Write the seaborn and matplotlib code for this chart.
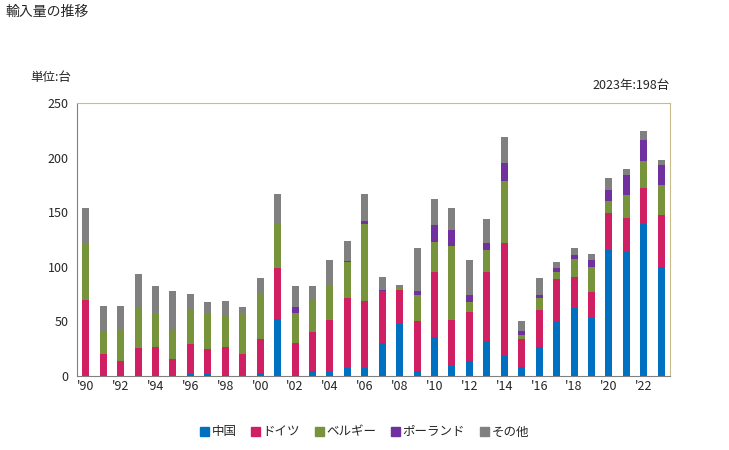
import numpy as np
import pandas as pd
import matplotlib.pyplot as plt
import seaborn as sns
from matplotlib.patches import Patch

# Values (units: 台)
years = list(range(1990, 2024))
china = [0, 0, 0, 0, 0, 0, 2, 2, 1, 0, 3, 52, 1, 5, 4, 7, 7, 30, 48, 5,
         36, 9, 14, 32, 18, 8, 27, 49, 62, 53, 115, 114, 139, 100]
germany = [70, 20, 14, 26, 27, 16, 27, 23, 26, 20, 31, 47, 29, 35, 47, 64, 62, 48, 31, 45,
           59, 42, 45, 63, 104, 26, 33, 40, 29, 24, 34, 31, 33, 47]
belgium = [52, 20, 28, 36, 31, 26, 31, 32, 29, 38, 41, 41, 28, 30, 32, 33, 70, 0, 2, 24,
           28, 68, 9, 20, 57, 4, 11, 6, 16, 23, 11, 21, 25, 28]
poland = [0, 0, 0, 0, 0, 0, 0, 0, 0, 0, 0, 0, 5, 0, 0, 1, 3, 1, 0, 4,
          15, 15, 6, 7, 16, 3, 3, 4, 4, 6, 10, 18, 19, 18]
other = [32, 24, 22, 31, 24, 36, 15, 11, 13, 5, 15, 27, 19, 12, 23, 19, 25, 12, 2, 39,
         24, 20, 32, 22, 24, 9, 16, 5, 6, 6, 11, 6, 8, 5]

series = ['中国', 'ドイツ', 'ベルギー', 'ポーランド', 'その他']
colors = ['#0070C0', '#D01F63', '#77933C', '#7030A0', '#808080']
tick_labels = ["'" + str(y)[2:] for y in years[::2]]

df = pd.DataFrame({'year': [str(y) for y in years], '中国': china, 'ドイツ': germany,
                   'ベルギー': belgium, 'ポーランド': poland, 'その他': other})

sns.set_style('white')
plt.rcParams['font.family'] = ['Noto Sans CJK JP', 'DejaVu Sans']

fig = plt.figure(figsize=(7.29, 4.50), dpi=100)
ax = fig.add_axes([77 / 729, 1 - 376 / 450, 593 / 729, 273 / 450])

# Stack the series one on top of the other
bottom = np.zeros(len(years))
for name, col in zip(series, colors):
    sns.barplot(data=df, x='year', y=name, color=col, width=0.4, bottom=bottom,
                errorbar=None, saturation=1, ax=ax, linewidth=0)
    bottom += df[name].values

ax.set_xlim(-0.5, len(years) - 0.5)
ax.set_ylim(0, 250)
ax.set_yticks(range(0, 251, 50))
ax.set_xticks(range(0, len(years), 2))
ax.set_xticklabels(tick_labels)
ax.set_xlabel('')
ax.set_ylabel('')
ax.tick_params(axis='y', length=4, color='#808080', labelsize=9, pad=2)
ax.tick_params(axis='x', length=0, labelsize=9, pad=3)

for s in ['left', 'bottom']:
    ax.spines[s].set_color('#808080')
for s in ['top', 'right']:
    ax.spines[s].set_color('#C8BC8C')

fig.text(5 / 729, 1 - 12 / 450, '輸入量の推移', fontsize=10, va='center', ha='left')
fig.text(30 / 729, 1 - 77 / 450, '単位:台', fontsize=9, va='center', ha='left')
fig.text(670 / 729, 1 - 85 / 450, '2023年:198台', fontsize=9, va='center', ha='right')

handles = [Patch(color=c, label=n) for n, c in zip(series, colors)]
fig.legend(handles=handles, loc='center', bbox_to_anchor=(0.5, 1 - 432 / 450), ncol=5,
           frameon=False, fontsize=9, handlelength=0.7, handleheight=0.7,
           handletextpad=0.2, columnspacing=1.2)

plt.savefig('out.png', dpi=100)
plt.close()
